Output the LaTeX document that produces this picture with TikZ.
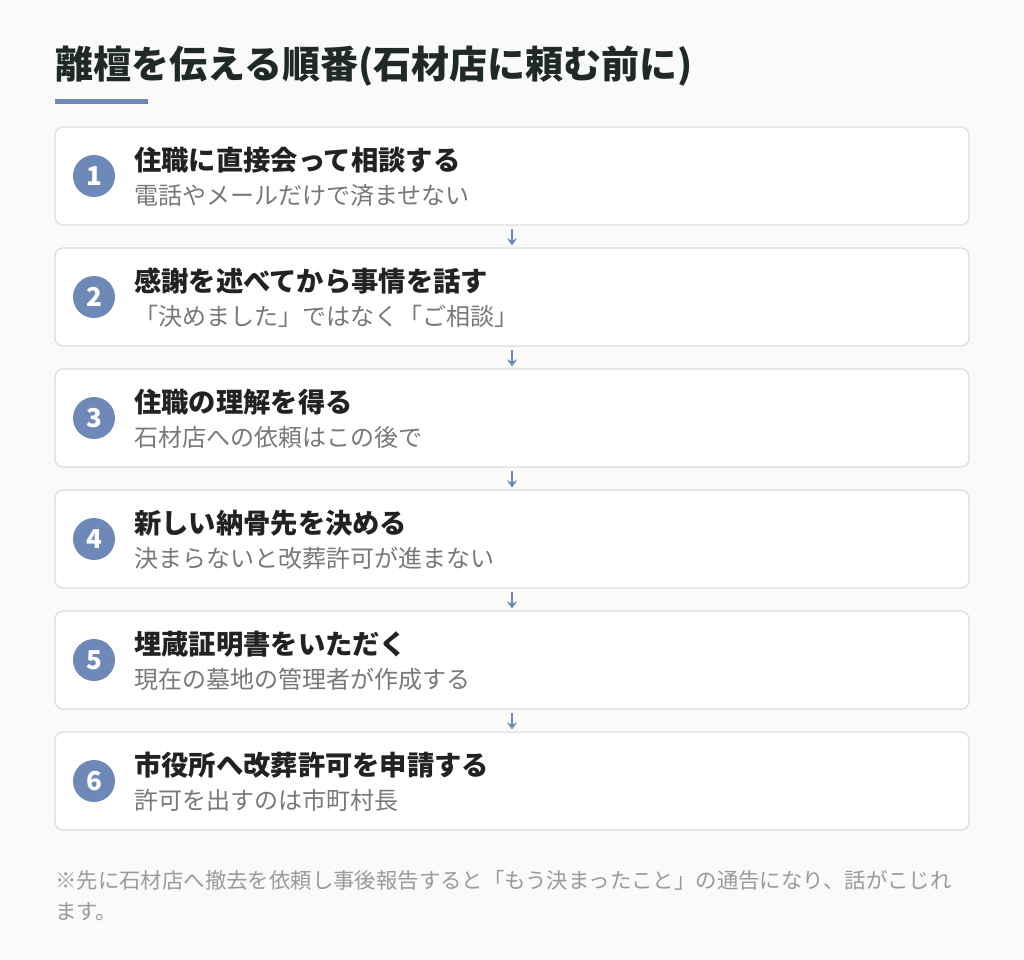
\documentclass[tikz,border=0pt]{standalone}
\usepackage{fontspec}
\setmainfont{Noto Sans CJK JP}
\newfontfamily\jp{Noto Sans CJK JP}
\usetikzlibrary{arrows.meta}
\definecolor{bgc}{HTML}{FAFAF8}
\definecolor{cardborder}{HTML}{DCDCDC}
\definecolor{accent}{HTML}{6E88B8}
\definecolor{titlec}{HTML}{1F2A24}
\definecolor{headc}{HTML}{222222}
\definecolor{subc}{HTML}{787878}
\definecolor{notec}{HTML}{9A9A9A}
\tikzset{
  card/.style={draw=cardborder, line width=1.2pt, fill=white, rounded corners=8pt, minimum width=914pt, minimum height=98pt, inner sep=0pt},
  numdot/.style={circle, fill=accent, minimum size=42pt, inner sep=0pt, text=white, font=\jp\bfseries\fontsize{26}{26}\selectfont},
  headtext/.style={anchor=base west, inner sep=0pt, text=headc, font=\jp\bfseries\fontsize{27.3}{28}\selectfont},
  subtext/.style={anchor=base west, inner sep=0pt, text=subc, font=\jp\fontsize{24}{25}\selectfont},
  flowarrow/.style={draw=accent, line width=2pt, -{Stealth[length=7pt,width=10pt]}},
}
\begin{document}
\begin{tikzpicture}[x=1pt,y=-1pt]
\fill[bgc] (0,0) rectangle (1024,959);
\useasboundingbox (0,0) rectangle (1024,959);
\node[anchor=base west, inner sep=0pt, text=titlec, font=\jp\bfseries\fontsize{38}{38}\selectfont] (title) at (55,78) {離檀を伝える順番(石材店に頼む前に)};
\fill[accent] (55,99) rectangle (148,104);
\foreach \i/\h/\s [count=\k] in {
  1/住職に直接会って相談する/電話やメールだけで済ませない,
  2/感謝を述べてから事情を話す/「決めました」ではなく「ご相談」,
  3/住職の理解を得る/石材店への依頼はこの後で,
  4/新しい納骨先を決める/決まらないと改葬許可が進まない,
  5/埋蔵証明書をいただく/現在の墓地の管理者が作成する,
  6/市役所へ改葬許可を申請する/許可を出すのは市町村長}{
  \pgfmathsetmacro{\cy}{176+121*(\k-1)}
  \node[card] (c\i) at (512,\cy) {};
  \node[numdot] (n\i) at (94,\cy) {\i};
  \node[headtext] (h\i) at (134,\cy-6) {\h};
  \node[subtext] (s\i) at (134,\cy+28) {\s};
}
\foreach \a/\b in {1/2,2/3,3/4,4/5,5/6}{
  \draw[flowarrow] ([yshift=-3.5pt]c\a.south) -- ([yshift=2pt]c\b.north);
}
\node[anchor=base west, inner sep=0pt, text=notec, font=\jp\fontsize{21.4}{31}\selectfont] (note1) at (55,888) {※先に石材店へ撤去を依頼し事後報告すると「もう決まったこと」の通告になり、話がこじれ};
\node[anchor=base west, inner sep=0pt, text=notec, font=\jp\fontsize{21.4}{31}\selectfont] (note2) at (55,919) {ます。};
\end{tikzpicture}
\end{document}
